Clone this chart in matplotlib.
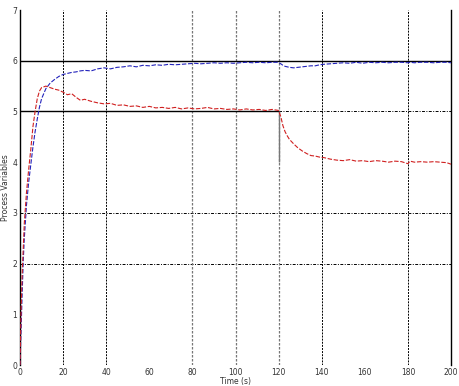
import matplotlib
matplotlib.use("Agg")
import matplotlib.pyplot as plt

# time axis (s)
time = [0, 0.5, 1, 1.5, 2, 3, 4, 5, 6, 7, 8, 9, 10, 12, 14, 16, 18, 20, 22, 24, 26, 28, 30,
        33, 36, 39, 42, 45, 48, 51, 54, 57, 60, 63, 66, 69, 72, 75, 78, 81, 84, 87, 90,
        93, 96, 99, 102, 105, 108, 111, 114, 117, 120,
        121, 122, 123, 124, 125, 127, 129, 131, 133, 135, 137, 139, 141,
        144, 147, 150, 153, 156, 159, 162, 165, 168, 171, 174, 177, 180,
        181, 183, 186, 189, 192, 195, 198, 200]

pv_red = [0, 1.1, 1.8, 2.3, 2.8, 3.4, 3.85, 4.25, 4.7, 5.0, 5.25, 5.4, 5.47, 5.5, 5.47, 5.44,
          5.42, 5.38, 5.33, 5.35, 5.28, 5.22, 5.24,
          5.2, 5.17, 5.15, 5.16, 5.12, 5.13, 5.1, 5.11, 5.08, 5.1,
          5.07, 5.08, 5.06, 5.08, 5.05, 5.07, 5.05, 5.06, 5.08, 5.05,
          5.06, 5.04, 5.05, 5.03, 5.05, 5.03, 5.04, 5.02, 5.04, 5.02,
          4.9, 4.72, 4.6, 4.52, 4.45, 4.36, 4.28, 4.22, 4.17, 4.13, 4.12, 4.1, 4.09,
          4.06, 4.04, 4.03, 4.05, 4.02, 4.03, 4.01, 4.03, 4.02, 4.0, 4.02, 4.01, 3.97,
          4.02, 4.0, 4.01, 4.0, 4.01, 4.0, 3.99, 3.96]

pv_blue = [0, 0.7, 1.4, 2.05, 2.5, 3.15, 3.6, 3.95, 4.3, 4.6, 4.85, 5.08, 5.25, 5.45, 5.56,
           5.63, 5.69, 5.73, 5.75, 5.77, 5.78, 5.8, 5.81,
           5.8, 5.84, 5.86, 5.84, 5.87, 5.88, 5.9, 5.88, 5.91, 5.9,
           5.92, 5.91, 5.93, 5.92, 5.93, 5.94, 5.95, 5.94, 5.95, 5.96,
           5.95, 5.96, 5.95, 5.96, 5.97, 5.96, 5.97, 5.96, 5.97, 5.97,
           5.94, 5.91, 5.89, 5.88, 5.87, 5.86, 5.87, 5.88, 5.89, 5.9, 5.9, 5.92, 5.93,
           5.94, 5.95, 5.96, 5.95, 5.97, 5.95, 5.97, 5.96, 5.97, 5.96, 5.97, 5.97, 5.96,
           5.97, 5.96, 5.97, 5.97, 5.96, 5.97, 5.97, 5.96]

# setpoints
sp_blue = 6
sp_red_before = 5
sp_red_after = 4
step_time = 120

xticks = list(range(0, 201, 20))
yticks = list(range(0, 8))
hgrid = [2, 3, 5]
vgrid_dark = [20, 40, 140, 180]
vgrid_grey = [80, 100, 120]

fig = plt.figure(figsize=(4.59, 3.86), dpi=100)
ax = fig.add_axes([0.0436, 0.0544, 0.939, 0.9196])

for y in hgrid:
    ax.axhline(y, color="black", linestyle=(0, (3, 1.5, 1, 1.5)), linewidth=0.7, zorder=1)
for x in vgrid_dark:
    ax.axvline(x, color="black", linestyle=(0, (2, 1.2)), linewidth=0.7, zorder=1)
for x in vgrid_grey:
    ax.axvline(x, color="#777777", linestyle=(0, (2, 1.2)), linewidth=0.9, zorder=1)

ax.axhline(sp_blue, color="black", linewidth=1.0, zorder=2)
ax.plot([0, step_time], [sp_red_before, sp_red_before], color="black", linewidth=1.0, zorder=2)
ax.vlines(step_time, sp_red_after, sp_red_before, color="#777777", linewidth=1.0, zorder=2)

ax.plot(time, pv_blue, color="#2222bb", linestyle=(0, (4, 1.5)), linewidth=0.8, zorder=3)
ax.plot(time, pv_red, color="#d02020", linestyle=(0, (4, 1.5)), linewidth=0.8, zorder=3)

ax.set_xlim(0, 200)
ax.set_ylim(0, 7)
ax.set_xticks(xticks)
ax.set_yticks(yticks)
ax.tick_params(length=0, labelsize=5.5, colors="#333333", pad=2)
ax.spines["top"].set_visible(False)
ax.spines["bottom"].set_visible(False)
ax.spines["left"].set_linewidth(1.0)
ax.spines["right"].set_linewidth(1.0)

ax.set_xlabel("Time (s)", fontsize=5.5, color="#333333", labelpad=0)
ax.set_ylabel("Process Variables", fontsize=5.5, color="#333333", labelpad=2)

fig.savefig("out.png", dpi=100)
